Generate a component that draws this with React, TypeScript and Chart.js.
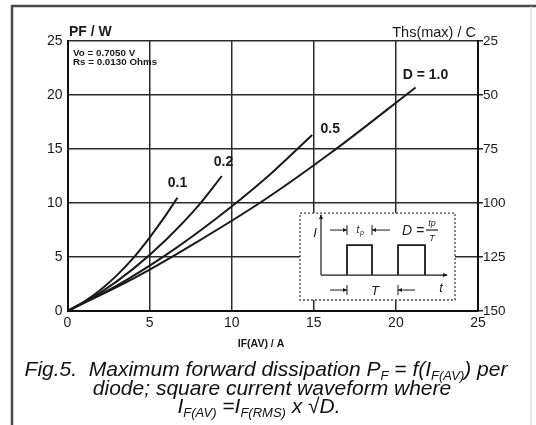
import React, { useEffect, useRef } from "react";
import { Chart, registerables } from "chart.js";

Chart.register(...registerables);

// ---- data ----
const xTicks = [0, 5, 10, 15, 20, 25];
const leftTicks = [0, 5, 10, 15, 20, 25];
const rightTicks = [25, 50, 75, 100, 125, 150];

const dutyLabels = ["0.1", "0.2", "0.5", "D = 1.0"];

const d01X = [0, 1, 2, 3, 4, 5, 6, 6.7];
const d01Y = [0, 0.85, 1.95, 3.3, 4.9, 6.8, 8.9, 10.5];

const d02X = [0, 2, 4, 6, 8, 9.4];
const d02Y = [0, 1.7, 3.9, 6.6, 9.8, 12.5];

const d05X = [0, 3, 6, 9, 12, 14.9];
const d05Y = [0, 2.35, 5.2, 8.5, 12.2, 16.3];

const d10X = [0, 4, 8, 12, 16, 21.2];
const d10Y = [0, 3.0, 6.5, 10.3, 14.6, 20.7];

// label anchor positions (data units)
const labelX = [6.7, 9.5, 16.0, 21.8];
const labelY = [11.8, 13.8, 16.8, 21.8];

const FONT = "'Liberation Sans', Arial, sans-serif";
const INK = "#1a1a1a";

function pts(xs: number[], ys: number[]) {
  return xs.map((x, i) => ({ x, y: ys[i] }));
}

function drawRuns(
  ctx: CanvasRenderingContext2D,
  runs: [string, boolean][],
  cx: number,
  y: number,
  size: number
) {
  const main = `italic ${size}px ${FONT}`;
  const sub = `italic ${Math.round(size * 0.6)}px ${FONT}`;
  let total = 0;
  for (const [t, s] of runs) {
    ctx.font = s ? sub : main;
    total += ctx.measureText(t).width;
  }
  let x = cx - total / 2;
  ctx.textAlign = "left";
  ctx.textBaseline = "alphabetic";
  for (const [t, s] of runs) {
    ctx.font = s ? sub : main;
    ctx.fillText(t, x, s ? y + 4 : y);
    x += ctx.measureText(t).width;
  }
}

function arrowH(ctx: CanvasRenderingContext2D, x1: number, x2: number, y: number) {
  ctx.beginPath();
  ctx.moveTo(x1, y);
  ctx.lineTo(x2, y);
  ctx.stroke();
  const dir = x2 > x1 ? 1 : -1;
  ctx.beginPath();
  ctx.moveTo(x2, y);
  ctx.lineTo(x2 - dir * 4, y - 2);
  ctx.lineTo(x2 - dir * 4, y + 2);
  ctx.closePath();
  ctx.fill();
  ctx.beginPath();
  ctx.moveTo(x2, y - 5);
  ctx.lineTo(x2, y + 5);
  ctx.stroke();
}

const decor = {
  id: "decor",
  afterDraw(chart: any) {
    const ctx: CanvasRenderingContext2D = chart.ctx;
    const xs = chart.scales.x;
    const ys = chart.scales.y;
    const W = chart.width;
    const H = chart.height;
    ctx.save();

    // page frame
    ctx.strokeStyle = "#4a4a4a";
    ctx.lineWidth = 2.5;
    ctx.beginPath();
    ctx.moveTo(12, H);
    ctx.lineTo(12, 6);
    ctx.lineTo(W, 6);
    ctx.stroke();
    ctx.strokeStyle = "#d0d0d0";
    ctx.lineWidth = 1;
    ctx.beginPath();
    ctx.moveTo(W - 5, 6);
    ctx.lineTo(W - 5, H);
    ctx.stroke();

    ctx.fillStyle = INK;
    // axis titles
    ctx.font = `bold 14px ${FONT}`;
    ctx.textAlign = "left";
    ctx.textBaseline = "middle";
    ctx.fillText("PF / W", 69, 32);
    ctx.font = `14.5px ${FONT}`;
    ctx.textAlign = "right";
    ctx.fillText("Ths(max) / C", 476, 33);
    ctx.font = `bold 10.5px ${FONT}`;
    ctx.textAlign = "center";
    ctx.fillText("IF(AV) / A", 261, 344);

    // parameters
    ctx.font = `bold 9.8px ${FONT}`;
    ctx.textAlign = "left";
    ctx.fillText("Vo = 0.7050 V", 73, 53);
    ctx.fillText("Rs = 0.0130 Ohms", 73, 62);

    // curve labels
    ctx.font = `bold 14px ${FONT}`;
    ctx.textAlign = "center";
    dutyLabels.forEach((t, i) => {
      ctx.fillText(t, xs.getPixelForValue(labelX[i]), ys.getPixelForValue(labelY[i]));
    });

    // caption
    ctx.fillStyle = "#111";
    drawRuns(
      ctx,
      [
        ["Fig.5.  Maximum forward dissipation P", false],
        ["F", true],
        [" = f(I", false],
        ["F(AV)", true],
        [") per", false],
      ],
      266,
      376,
      21
    );
    drawRuns(ctx, [["diode; square current waveform where", false]], 272, 395, 21);
    drawRuns(
      ctx,
      [
        ["I", false],
        ["F(AV)", true],
        [" =I", false],
        ["F(RMS)", true],
        [" x \u221AD.", false],
      ],
      259,
      413,
      21
    );

    // inset waveform box
    const bx = xs.getPixelForValue(14.16);
    const bx2 = xs.getPixelForValue(23.6);
    const by = ys.getPixelForValue(9.07);
    const by2 = ys.getPixelForValue(1.02);
    ctx.fillStyle = "#ffffff";
    ctx.fillRect(bx, by, bx2 - bx, by2 - by);
    ctx.strokeStyle = "#444";
    ctx.lineWidth = 1.3;
    ctx.setLineDash([2, 2]);
    ctx.strokeRect(bx, by, bx2 - bx, by2 - by);
    ctx.setLineDash([]);

    ctx.strokeStyle = INK;
    ctx.fillStyle = INK;
    ctx.lineWidth = 1.2;
    const base = by + 62;
    ctx.beginPath();
    ctx.moveTo(bx + 21, base);
    ctx.lineTo(bx + 21, by + 2);
    ctx.stroke();
    ctx.beginPath();
    ctx.moveTo(bx + 21, by + 1);
    ctx.lineTo(bx + 19, by + 6);
    ctx.lineTo(bx + 23, by + 6);
    ctx.closePath();
    ctx.fill();
    ctx.beginPath();
    ctx.moveTo(bx + 21, base);
    ctx.lineTo(bx + 147, base);
    ctx.stroke();
    ctx.beginPath();
    ctx.moveTo(bx + 148, base);
    ctx.lineTo(bx + 143, base - 2);
    ctx.lineTo(bx + 143, base + 2);
    ctx.closePath();
    ctx.fill();
    ctx.lineWidth = 1.8;
    ctx.beginPath();
    ctx.moveTo(bx + 47, base);
    ctx.lineTo(bx + 47, by + 32);
    ctx.lineTo(bx + 72, by + 32);
    ctx.lineTo(bx + 72, base);
    ctx.moveTo(bx + 98, base);
    ctx.lineTo(bx + 98, by + 32);
    ctx.lineTo(bx + 125, by + 32);
    ctx.lineTo(bx + 125, base);
    ctx.stroke();
    ctx.lineWidth = 1;
    arrowH(ctx, bx + 30, bx + 47, by + 17);
    arrowH(ctx, bx + 90, bx + 72, by + 17);
    arrowH(ctx, bx + 30, bx + 47, by + 77);
    arrowH(ctx, bx + 115, bx + 98, by + 77);

    ctx.font = `italic 13px ${FONT}`;
    ctx.textAlign = "center";
    ctx.textBaseline = "middle";
    ctx.fillText("I", bx + 15, by + 20);
    ctx.fillText("T", bx + 75, by + 78);
    ctx.fillText("t", bx + 141, by + 75);
    ctx.font = `italic 10px ${FONT}`;
    ctx.fillText("t", bx + 58, by + 17);
    ctx.font = `italic 7px ${FONT}`;
    ctx.fillText("p", bx + 62, by + 20);
    ctx.font = `italic 14px ${FONT}`;
    ctx.fillText("D =", bx + 113, by + 18);
    ctx.font = `italic 9px ${FONT}`;
    ctx.fillText("tp", bx + 132, by + 10);
    ctx.fillText("T", bx + 132, by + 25);
    ctx.lineWidth = 1.2;
    ctx.beginPath();
    ctx.moveTo(bx + 126, by + 17);
    ctx.lineTo(bx + 138, by + 17);
    ctx.stroke();

    ctx.restore();
  },
};

export default function App() {
  const ref = useRef<HTMLCanvasElement | null>(null);

  useEffect(() => {
    document.body.style.margin = "0";
    if (!ref.current) return;
    Chart.defaults.font.family = FONT;
    const ds = (xs: number[], ys: number[]) => ({
      data: pts(xs, ys),
      borderColor: INK,
      borderWidth: 2,
      pointRadius: 0,
      cubicInterpolationMode: "monotone" as const,
      fill: false,
    });
    const chart = new Chart(ref.current, {
      type: "line",
      data: {
        datasets: [ds(d01X, d01Y), ds(d02X, d02Y), ds(d05X, d05Y), ds(d10X, d10Y)],
      },
      options: {
        animation: false,
        responsive: true,
        maintainAspectRatio: false,
        layout: { padding: { top: 41, left: 0, right: 0, bottom: 0 } },
        plugins: { legend: { display: false }, tooltip: { enabled: false }, title: { display: false } },
        scales: {
          x: {
            type: "linear",
            min: 0,
            max: 25,
            afterBuildTicks: (s: any) => {
              s.ticks = xTicks.map((v) => ({ value: v }));
            },
            afterFit: (s: any) => {
              s.height = 114;
            },
            ticks: { color: INK, font: { size: 14 }, padding: 4, maxRotation: 0 },
            grid: { color: "#2a2a2a", lineWidth: 1.5, drawTicks: false },
            border: { display: true, color: "#111", width: 2 },
          },
          y: {
            type: "linear",
            position: "left",
            min: 0,
            max: 25,
            afterBuildTicks: (s: any) => {
              s.ticks = leftTicks.map((v) => ({ value: v }));
            },
            afterFit: (s: any) => {
              s.width = 67.5;
            },
            ticks: { color: INK, font: { size: 14 }, padding: 5 },
            grid: { color: "#2a2a2a", lineWidth: 1.5, drawTicks: false },
            border: { display: true, color: "#111", width: 2 },
          },
          y2: {
            type: "linear",
            position: "right",
            min: 25,
            max: 150,
            reverse: true,
            afterBuildTicks: (s: any) => {
              s.ticks = rightTicks.map((v) => ({ value: v }));
            },
            afterFit: (s: any) => {
              s.width = 58;
            },
            ticks: { color: INK, font: { size: 13.5 }, padding: 0 },
            grid: { drawOnChartArea: false, drawTicks: true, tickLength: 5, tickColor: "#222", lineWidth: 1.5 },
            border: { display: true, color: "#111", width: 2 },
          },
        },
      },
      plugins: [decor],
    });
    return () => chart.destroy();
  }, []);

  return (
    <div style={{ position: "relative", width: 536, height: 425, background: "#fff" }}>
      <canvas ref={ref} />
    </div>
  );
}
